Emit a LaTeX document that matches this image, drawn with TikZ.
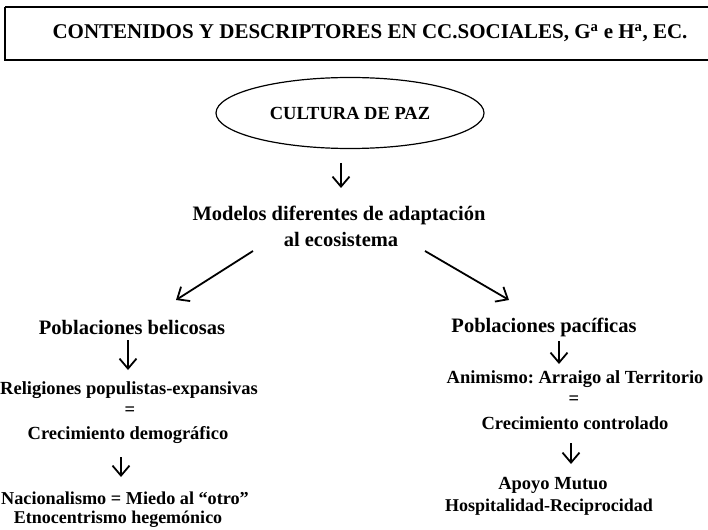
\documentclass[tikz,border=0pt]{standalone}
\usepackage{fontspec}
\setmainfont{Liberation Serif}
\usetikzlibrary{arrows.meta,shapes.geometric}
\frenchspacing
\newcommand{\fs}[1]{\bfseries\fontsize{#1}{#1}\selectfont}
\tikzset{
  lbl/.style={font=\fs{20.5}, inner sep=0pt, anchor=center},
  sml/.style={font=\fs{18.5}, inner sep=0pt, anchor=center},
  arr/.style={line width=1.8pt, -{Straight Barb[length=10pt,width=17pt,line width=1.8pt]}}
}
\begin{document}
\begin{tikzpicture}[x=1pt,y=-1pt]
\useasboundingbox (0,0) rectangle (708,529);
\draw[line width=1.2pt] (5,7) -- (5,60) -- (712,60) (5,7) -- (712,7);
\node[font=\fs{21}, inner sep=0pt] (title) at (370,33) {CONTENIDOS Y DESCRIPTORES EN CC.SOCIALES, G\textsuperscript{a} e H\textsuperscript{a}, EC.};
\node[draw, ellipse, line width=1.2pt, minimum width=268pt, minimum height=71pt, inner sep=0pt, font=\fs{18.5}] (paz) at (350,113) {CULTURA DE PAZ};
\coordinate (a1s) at (341,163);
\coordinate (a1e) at (341,188);
\draw[arr] (a1s) -- (a1e);
\node[lbl] (mod1) at (339,215) {Modelos diferentes de adaptación};
\node[lbl] (mod2) at (341,239) {al ecosistema};
\coordinate (l1) at (253,251); \coordinate (l2) at (176,300);
\coordinate (r1) at (425,251); \coordinate (r2) at (509,300);
\draw[arr] (l1) -- (l2);
\draw[arr] (r1) -- (r2);
% left branch
\node[lbl] (bel) at (132,327) {Poblaciones belicosas};
\coordinate (b1) at (128,340); \coordinate (b2) at (128,370);
\draw[arr] (b1) -- (b2);
\node[sml] (rel) at (129,390) {Religiones populistas-expansivas};
\node[sml] (eq1) at (130,411) {=};
\node[sml] (crec1) at (128,435) {Crecimiento demográfico};
\coordinate (b3) at (121,457); \coordinate (b4) at (121,477);
\draw[arr] (b3) -- (b4);
\node[font=\fs{18.2}, inner sep=0pt] (nac) at (125,498) {Nacionalismo = Miedo al “otro”};
\node[font=\fs{18}, inner sep=0pt] (etno) at (118,519) {Etnocentrismo hegemónico};
% right branch
\node[lbl] (pac) at (544,327) {Poblaciones pacíficas};
\coordinate (p1) at (559,341); \coordinate (p2) at (559,364);
\draw[arr] (p1) -- (p2);
\node[font=\fs{18.5}, inner sep=0pt] (ani) at (575,379) {Animismo: Arraigo al Territorio};
\node[sml] (eq2) at (574,400) {=};
\node[sml] (crec2) at (575,423) {Crecimiento controlado};
\coordinate (p3) at (571,443); \coordinate (p4) at (571,464);
\draw[arr] (p3) -- (p4);
\node[sml] (apo) at (553,485) {Apoyo Mutuo};
\node[font=\fs{18}, inner sep=0pt] (hosp) at (549,507) {Hospitalidad-Reciprocidad};
\end{tikzpicture}
\end{document}
